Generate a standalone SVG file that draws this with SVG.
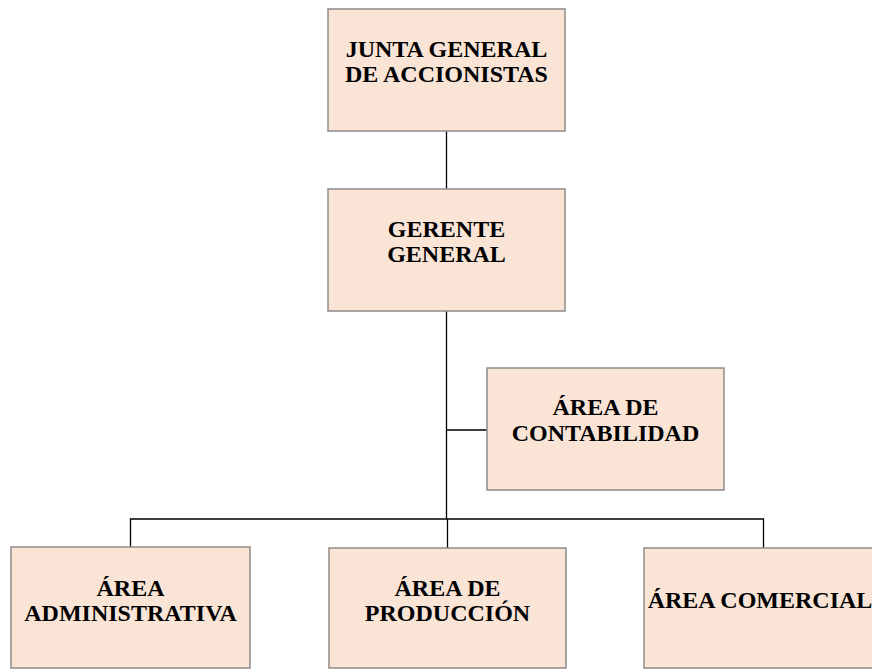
<svg xmlns="http://www.w3.org/2000/svg" width="872" height="670" viewBox="0 0 872 670">
<style>
.box{fill:#F9E4D6;stroke:#8E8A88;stroke-width:1.5}
.t{font-family:"Liberation Serif","Times New Roman",serif;font-weight:bold;font-size:24px;fill:#000;text-anchor:middle}
.c{stroke:#000;stroke-width:1.3;fill:none}
</style>
<rect width="872" height="670" fill="#fff"/>
<g id="connectors">
<line class="c" x1="446.5" y1="131" x2="446.5" y2="189"/>
<line class="c" x1="446.5" y1="311" x2="446.5" y2="519"/>
<line class="c" x1="446.5" y1="430" x2="487" y2="430"/>
<polyline class="c" points="130.5,547 130.5,519 763.5,519 763.5,548"/>
<line class="c" x1="447.5" y1="519" x2="447.5" y2="548"/>
</g>
<g id="junta">
<rect class="box" x="328" y="9" width="237" height="122"/>
<text class="t" x="446.5" y="57">JUNTA GENERAL</text>
<text class="t" x="446.5" y="82">DE ACCIONISTAS</text>
</g>
<g id="gerente">
<rect class="box" x="328" y="189" width="237" height="122"/>
<text class="t" x="446.5" y="237">GERENTE</text>
<text class="t" x="446.5" y="262">GENERAL</text>
</g>
<g id="contabilidad">
<rect class="box" x="487" y="368" width="237" height="122"/>
<text class="t" x="605.5" y="415">ÁREA DE</text>
<text class="t" x="605.5" y="441">CONTABILIDAD</text>
</g>
<g id="administrativa">
<rect class="box" x="11" y="547" width="239" height="121"/>
<text class="t" x="130.5" y="596">ÁREA</text>
<text class="t" x="130.5" y="621">ADMINISTRATIVA</text>
</g>
<g id="produccion">
<rect class="box" x="329" y="548" width="237" height="120"/>
<text class="t" x="447.5" y="596">ÁREA DE</text>
<text class="t" x="447.5" y="621">PRODUCCIÓN</text>
</g>
<g id="comercial">
<rect class="box" x="644" y="548" width="237" height="120"/>
<text class="t" x="760" y="608">ÁREA COMERCIAL</text>
</g>
</svg>
